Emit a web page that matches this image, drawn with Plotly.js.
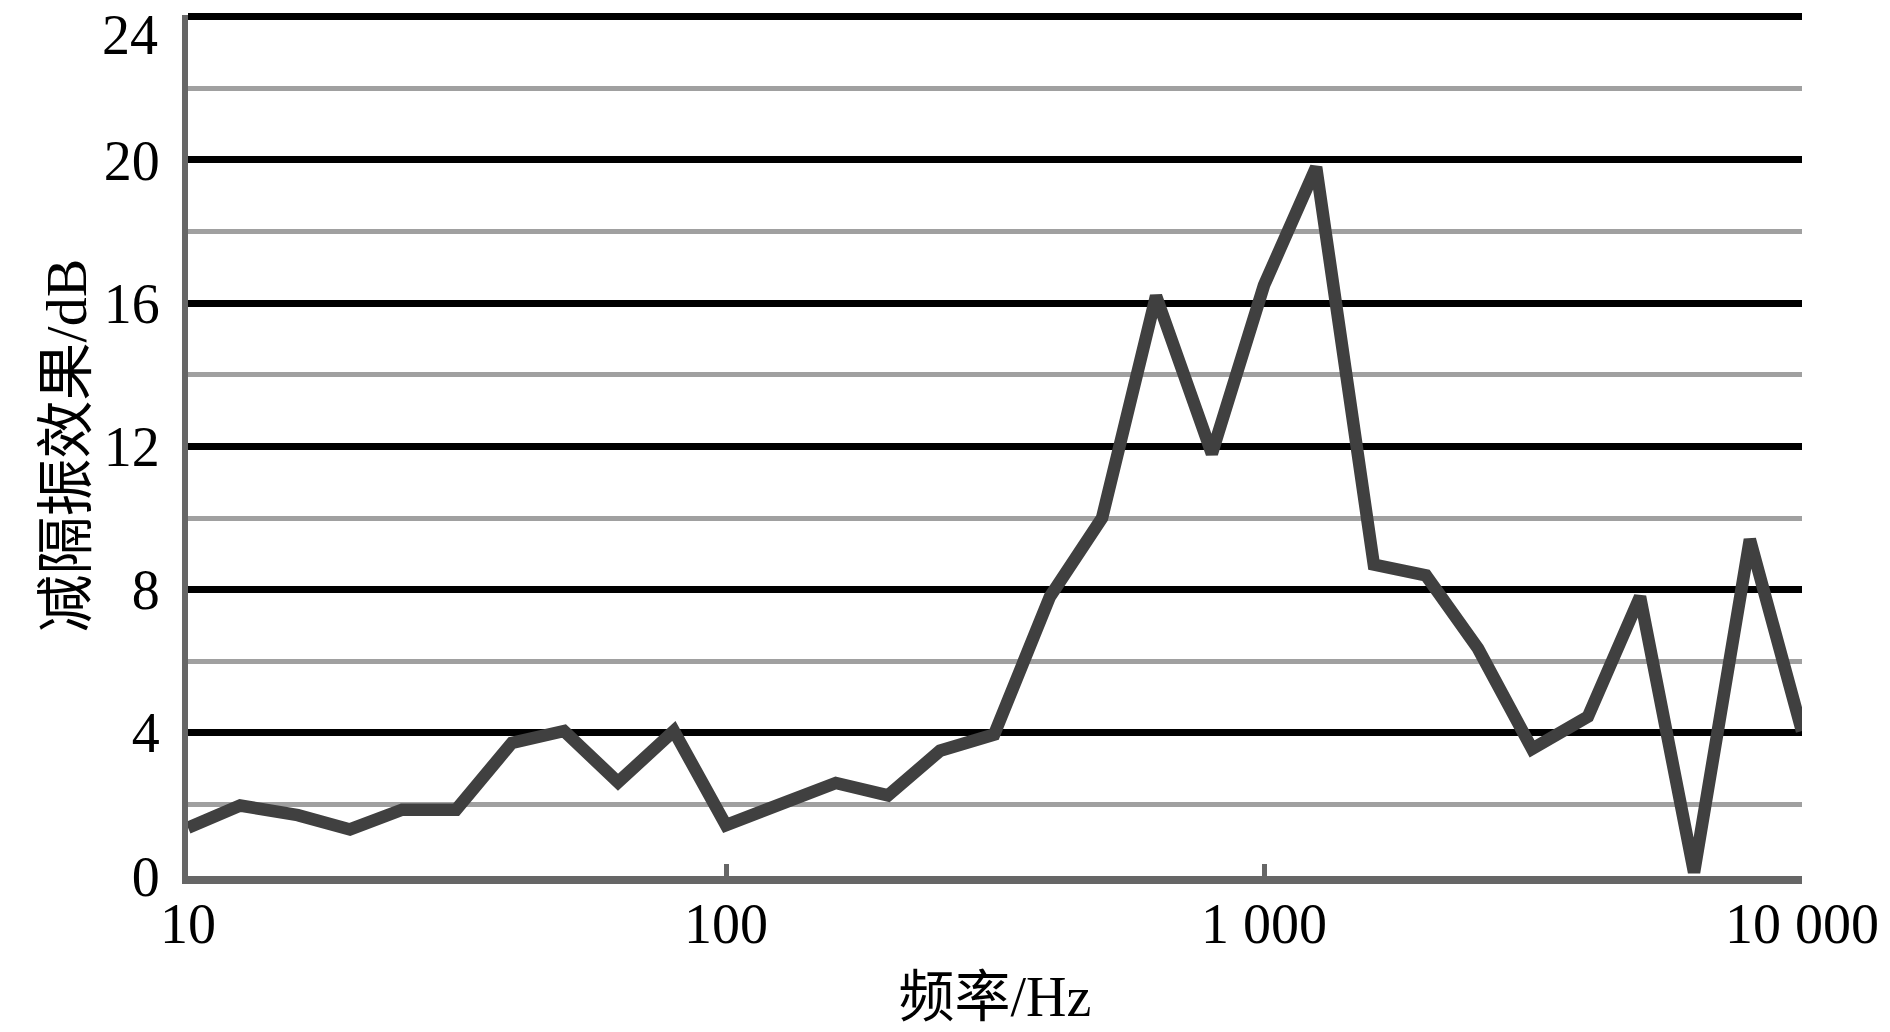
<!DOCTYPE html>
<html>
<head>
<meta charset="utf-8">
<script src="https://cdn.plot.ly/plotly-3.0.1.min.js"></script>
<style>html,body{margin:0;padding:0;background:#fff;}#chart{width:1890px;height:1032px;}</style>
</head>
<body>
<div id="chart"></div>
<script>
// 1/3-octave centre frequencies (Hz)
const frequencies = [10, 12.5, 16, 20, 25, 31.5, 40, 50, 63, 80, 100, 125, 160, 200, 250, 315, 400, 500, 630, 800, 1000, 1250, 1600, 2000, 2500, 3150, 4000, 5000, 6300, 8000, 10000];
// Vibration isolation effect (dB)
const isolationDb = [1.35, 1.97, 1.7, 1.3, 1.85, 1.85, 3.72, 4.05, 2.62, 4.05, 1.42, 2.02, 2.6, 2.25, 3.5, 3.95, 7.8, 10.0, 16.2, 11.8, 16.5, 19.8, 8.7, 8.4, 6.35, 3.55, 4.45, 7.8, 0.1, 9.4, 4.05];
// Axis tick labels
const xTickVals = [10, 100, 1000, 10000];
const xTickText = ["10", "100", "1 000", "10 000"];
const yTickVals = [0, 4, 8, 12, 16, 20, 24];
const yTickText = ["0", "4", "8", "12", "16", "20", "24"];
const xTitle = "频率/Hz";
const yTitle = "减隔振效果/dB";

const serif = "Liberation Serif, Times New Roman, Noto Sans CJK SC, serif";
const lastY = yTickVals.length - 1;

const trace = {
  x: frequencies,
  y: isolationDb,
  type: "scatter",
  mode: "lines",
  line: {color: "#404040", width: 12.5},
  hoverinfo: "x+y"
};

const layout = {
  width: 1890,
  height: 1032,
  paper_bgcolor: "#fff",
  plot_bgcolor: "#fff",
  showlegend: false,
  margin: {l: 188, r: 88, t: 15, b: 156},
  xaxis: {
    type: "log",
    range: [1, 4],
    tickvals: xTickVals,
    ticktext: xTickText,
    ticks: "inside",
    ticklen: 12,
    tickwidth: 5,
    tickcolor: "#666",
    showgrid: false,
    zeroline: false,
    showline: true,
    linecolor: "#666",
    linewidth: 8,
    ticklabelstandoff: -8,
    ticklabeloverflow: "allow",
    tickfont: {family: serif, size: 56, color: "#000"},
    title: {text: xTitle, font: {family: serif, size: 56, color: "#000"}, standoff: 26},
    automargin: false
  },
  yaxis: {
    range: [0, 24.05],
    tickvals: yTickVals,
    // the top label sits a little below its gridline (drawn as an annotation below)
    ticktext: yTickText.map((t, i) => (i === lastY ? "" : t)),
    ticks: "",
    showgrid: true,
    gridcolor: "#000",
    gridwidth: 7,
    minor: {dtick: 2, tick0: 0, showgrid: true, gridcolor: "#a0a0a0", gridwidth: 5, ticks: ""},
    zeroline: false,
    showline: true,
    linecolor: "#666",
    linewidth: 6,
    ticklabelstandoff: 11,
    ticklabeloverflow: "allow",
    tickfont: {family: serif, size: 56, color: "#000"},
    title: {text: yTitle, font: {family: serif, size: 58, color: "#000"}, standoff: 0},
    automargin: false
  },
  annotations: [{
    xref: "paper", x: 0, xanchor: "right", xshift: -28,
    yref: "y", y: yTickVals[lastY], yanchor: "middle", yshift: -18,
    text: yTickText[lastY], showarrow: false,
    font: {family: serif, size: 56, color: "#000"}
  }]
};

Plotly.newPlot("chart", [trace], layout, {displayModeBar: false, staticPlot: true});
</script>
</body>
</html>
